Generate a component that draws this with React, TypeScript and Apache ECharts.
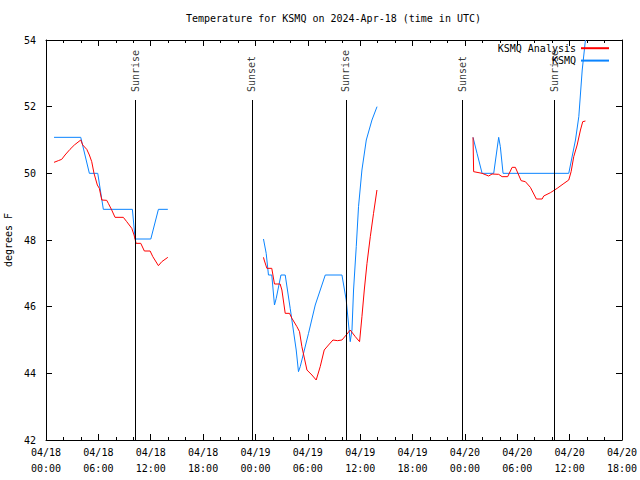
import React, { useEffect, useRef } from "react";
import * as echarts from "echarts";

// hours since 2024-04-18 00:00 UTC
const tickLabels = [
  "04/18\n00:00", "04/18\n06:00", "04/18\n12:00", "04/18\n18:00",
  "04/19\n00:00", "04/19\n06:00", "04/19\n12:00", "04/19\n18:00",
  "04/20\n00:00", "04/20\n06:00", "04/20\n12:00", "04/20\n18:00",
];

const obsSeg1: [number, number][] = [
  [0.92, 51.08], [3.98, 51.08], [4.97, 50.0], [5.93, 50.0], [6.57, 48.92], [9.9, 48.92],
  [10.21, 48.03], [12.01, 48.03], [12.88, 48.92], [13.96, 48.92],
];
const obsSeg2: [number, number][] = [
  [24.92, 48.03], [25.23, 47.6], [25.49, 46.95], [25.87, 46.95], [26.18, 46.05], [26.38, 46.25],
  [26.92, 46.95], [27.41, 46.95], [27.98, 45.95], [28.67, 44.7], [28.93, 44.05], [29.13, 44.2],
  [30.08, 45.2], [30.85, 46.05], [32.0, 46.95], [33.91, 46.95], [34.4, 46.2], [34.86, 44.95],
  [35.06, 45.3], [35.24, 46.5], [35.55, 47.8], [35.81, 49.0], [36.2, 50.1], [36.7, 51.0],
  [37.35, 51.6], [37.93, 52.0],
];
const obsSeg3: [number, number][] = [
  [48.93, 51.08], [49.39, 50.6], [49.97, 50.0], [51.3, 50.0], [51.87, 51.08], [52.06, 50.8],
  [52.37, 50.0], [59.9, 50.0], [60.67, 51.0], [61.05, 51.7], [61.44, 53.1], [61.81, 54.0],
];

const anaSeg1: [number, number][] = [
  [0.92, 50.33], [1.41, 50.38], [1.8, 50.42], [2.18, 50.55], [2.75, 50.72], [3.25, 50.85],
  [3.98, 51.0], [4.21, 50.85], [4.67, 50.72], [4.97, 50.55], [5.24, 50.35], [5.5, 50.0],
  [5.88, 49.65], [6.11, 49.55], [6.39, 49.2], [6.96, 49.19], [7.14, 49.1], [7.53, 48.9],
  [7.91, 48.68], [8.86, 48.68], [9.25, 48.55], [9.83, 48.35], [10.09, 48.15], [10.32, 47.9],
  [10.86, 47.9], [11.27, 47.67], [11.93, 47.67], [12.24, 47.5], [12.88, 47.23], [13.27, 47.35],
  [13.96, 47.48],
];
const anaSeg2: [number, number][] = [
  [24.92, 47.48], [25.0, 47.4], [25.31, 47.15], [25.87, 47.15], [26.18, 46.68], [26.83, 46.68],
  [27.03, 46.5], [27.41, 45.8], [27.9, 45.8], [28.18, 45.65], [28.75, 45.4], [29.05, 45.25],
  [29.32, 44.8], [29.9, 44.1], [30.47, 43.95], [30.96, 43.8], [31.42, 44.2], [31.88, 44.7],
  [32.37, 44.85], [32.88, 45.0], [33.41, 44.98], [33.91, 45.0], [34.4, 45.15], [34.86, 45.3],
  [35.44, 45.1], [35.93, 44.95], [36.2, 45.7], [36.47, 46.5], [36.78, 47.3], [37.16, 48.1],
  [37.53, 48.8], [37.92, 49.5],
];
const anaSeg3: [number, number][] = [
  [48.93, 51.08], [49.0, 50.05], [49.97, 50.0], [50.72, 49.92], [51.11, 49.98], [51.87, 49.97],
  [52.26, 49.9], [52.9, 49.9], [53.41, 50.18], [53.78, 50.18], [54.44, 49.78], [54.93, 49.75],
  [55.5, 49.58], [56.19, 49.23], [56.85, 49.23], [57.03, 49.32], [57.8, 49.42], [58.57, 49.55],
  [59.25, 49.68], [59.9, 49.8], [60.17, 50.05], [60.47, 50.5], [60.86, 50.85], [61.24, 51.3],
  [61.5, 51.55], [61.81, 51.57],
];

const sunHours = [10.2, 23.6, 34.37, 47.67, 58.26];
const sunNames = ["Sunrise", "Sunset", "Sunrise", "Sunset", "Sunrise"];

const FONT = "DejaVu Sans Mono";

function joinSegs(segs: [number, number][][]) {
  const out: any[] = [];
  segs.forEach((s, i) => {
    if (i > 0) out.push([(segs[i - 1][segs[i - 1].length - 1][0] + s[0][0]) / 2, "-"]);
    s.forEach((p) => out.push(p));
  });
  return out;
}

export default function App() {
  const ref = useRef<HTMLDivElement>(null);
  useEffect(() => {
    const chart = echarts.init(ref.current!, null, { renderer: "svg" });
    const textStyle = { fontFamily: FONT, fontSize: 10, color: "#000" };
    const lineAxis = { show: true, onZero: false, lineStyle: { color: "#000", width: 1 } };
    const tick = { show: true, inside: true, length: 6, lineStyle: { color: "#000" } };
    const minor = { show: true, splitNumber: 3, length: 3, lineStyle: { color: "#000" } };
    chart.setOption({
      animation: false,
      backgroundColor: "#fff",
      textStyle,
      title: {
        text: "Temperature for KSMQ on 2024-Apr-18 (time in UTC)",
        left: 181,
        top: 8,
        textStyle: { ...textStyle, fontWeight: "normal" },
      },
      legend: {
        data: ["KSMQ Analysis", "KSMQ"],
        orient: "vertical",
        align: "right",
        right: 25,
        top: 38,
        itemWidth: 28,
        itemHeight: 13,
        itemGap: 2,
        itemStyle: { opacity: 0 },
        textStyle,
      },
      grid: { left: 46, right: 18, top: 40, bottom: 40, outerBoundsMode: "none", containLabel: false },
      xAxis: [
        {
          type: "value",
          min: 0,
          max: 66,
          interval: 6,
          axisLine: lineAxis,
          axisTick: tick,
          minorTick: minor,
          splitLine: { show: false },
          axisLabel: {
            ...textStyle,
            margin: 4,
            lineHeight: 16,
            formatter: (v: number) => tickLabels[Math.round(v / 6)] ?? "",
          },
        },
        {
          type: "value",
          position: "top",
          min: 0,
          max: 66,
          interval: 6,
          axisLine: lineAxis,
          axisTick: tick,
          minorTick: minor,
          splitLine: { show: false },
          axisLabel: { show: false },
        },
      ],
      yAxis: [
        {
          type: "value",
          min: 42,
          max: 54,
          interval: 2,
          name: "degrees F",
          nameLocation: "middle",
          nameGap: 31,
          nameRotate: 90,
          nameTextStyle: textStyle,
          axisLine: lineAxis,
          axisTick: tick,
          splitLine: { show: false },
          axisLabel: { ...textStyle, margin: 10 },
        },
        {
          type: "value",
          position: "right",
          min: 42,
          max: 54,
          interval: 2,
          axisLine: lineAxis,
          axisTick: tick,
          splitLine: { show: false },
          axisLabel: { show: false },
        },
      ],
      series: [
        {
          name: "KSMQ",
          type: "line",
          data: joinSegs([obsSeg1, obsSeg2, obsSeg3]),
          showSymbol: false,
          symbol: "none",
          connectNulls: false,
          color: "#0a84ff",
          lineStyle: { color: "#0a84ff", width: 1 },
        },
        {
          name: "KSMQ Analysis",
          type: "line",
          data: joinSegs([anaSeg1, anaSeg2, anaSeg3]),
          showSymbol: false,
          symbol: "none",
          connectNulls: false,
          color: "#ff0000",
          lineStyle: { color: "#ff0000", width: 1 },
          markLine: {
            silent: true,
            symbol: "none",
            animation: false,
            label: { show: false },
            lineStyle: { color: "#000", width: 1, type: "solid" },
            data: sunHours.map((h) => [{ coord: [h, 42] }, { coord: [h, 52.2] }]),
          },
        },
        {
          name: "sun",
          type: "scatter",
          symbolSize: 0,
          silent: true,
          data: sunHours.map((h, i) => [h, 52.44, sunNames[i]]),
          label: {
            show: true,
            position: "inside",
            rotate: 90,
            align: "left",
            verticalAlign: "middle",
            formatter: (p: any) => p.value[2],
            fontFamily: FONT,
            fontSize: 10,
            color: "#000",
            textBorderWidth: 0,
          },
        },
      ],
    });
    return () => chart.dispose();
  }, []);
  return (
    <div
      ref={ref}
      style={{ position: "fixed", left: 0, top: 0, width: 640, height: 480 }}
    />
  );
}
